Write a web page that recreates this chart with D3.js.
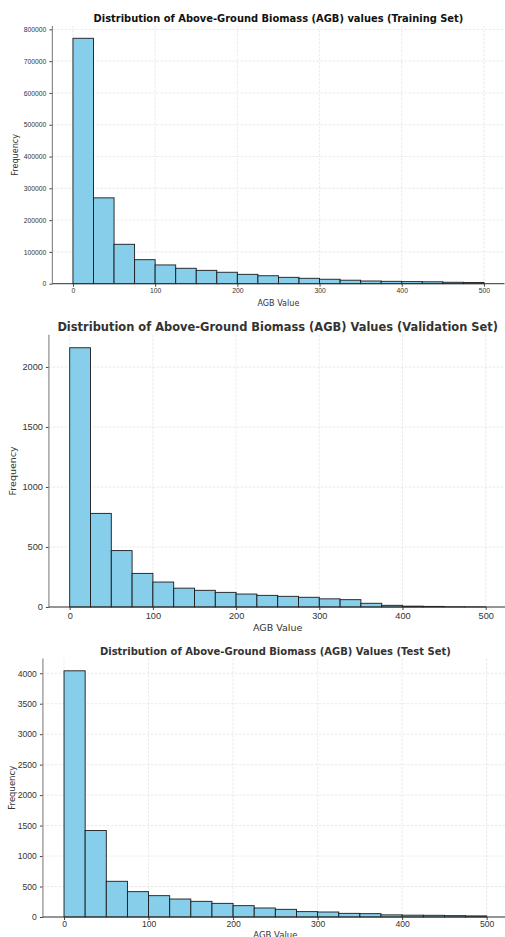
<!DOCTYPE html>
<html lang="en">
<head>
<meta charset="UTF-8">
<title>AGB Distributions</title>
<script src="https://cdnjs.cloudflare.com/ajax/libs/d3/7.8.5/d3.min.js"></script>
<style>
    body { margin: 0; background: #fff; }
    svg { display: block; font-family: 'DejaVu Sans', sans-serif; }
    .grid line { stroke: #dcdcdc; stroke-width: 0.6; stroke-dasharray: 2.5,1.5; }
    .tick text { fill: #333; }
    .tick line { stroke: #444; }
</style>
</head>
<body>
<div id="chart"></div>
<script>
    // histogram bins (AGB value), shared by all three sets
    const binEdges = [0, 25, 50, 75, 100, 125, 150, 175, 200, 225, 250,
                      275, 300, 325, 350, 375, 400, 425, 450, 475, 500];

    const trainCounts = [772000, 270000, 124000, 75500, 59000, 48500, 42000, 36000, 29500, 25000,
                         20000, 17000, 14000, 11000, 8500, 7500, 6500, 6000, 4500, 4000];
    const valCounts = [2160, 780, 470, 280, 208, 157, 139, 122, 108, 97,
                       89, 81, 68, 61, 31, 14, 7, 5, 2, 1];
    const testCounts = [4040, 1420, 586, 416, 350, 295, 257, 224, 186, 148,
                        126, 88, 82, 60, 55, 35, 30, 28, 22, 18];

    const xTicks = [0, 100, 200, 300, 400, 500];
    const trainYTicks = [0, 100000, 200000, 300000, 400000, 500000, 600000, 700000, 800000];
    const valYTicks = [0, 500, 1000, 1500, 2000];
    const testYTicks = [0, 500, 1000, 1500, 2000, 2500, 3000, 3500, 4000];

    const panels = [
        {
            title: "Distribution of Above-Ground Biomass (AGB) values (Training Set)",
            counts: trainCounts, yTicks: trainYTicks,
            left: 52.4, right: 504.5, top: 26, bottom: 283.7,
            titleY: 22, titleWidth: 370, titleColor: "#111",
            tickSize: 6.8, labelSize: 8.1,
            xTickY: 294, xLabelY: 305.5, yLabelX: 15
        },
        {
            title: "Distribution of Above-Ground Biomass (AGB) Values (Validation Set)",
            counts: valCounts, yTicks: valYTicks,
            left: 48.9, right: 506.5, top: 334.8, bottom: 607,
            titleY: 330.5, titleWidth: 441, titleColor: "#333",
            tickSize: 9.2, labelSize: 9.5,
            xTickY: 619, xLabelY: 630.5, yLabelX: 13
        },
        {
            title: "Distribution of Above-Ground Biomass (AGB) Values (Test Set)",
            counts: testCounts, yTicks: testYTicks,
            left: 42.9, right: 507.8, top: 658.5, bottom: 917,
            titleY: 655, titleWidth: 351, titleColor: "#333",
            tickSize: 8.6, labelSize: 8.5,
            xTickY: 927, xLabelY: 938, yLabelX: 12
        }
    ];

    const svg = d3.select("#chart").append("svg")
        .attr("width", 505)
        .attr("height", 937);

    panels.forEach(p => {
        const g = svg.append("g");
        const bins = p.counts.map((c, i) => ({ x0: binEdges[i], x1: binEdges[i + 1], count: c }));

        const x = d3.scaleLinear().domain([-25, 525]).range([p.left, p.right]);
        const y = d3.scaleLinear().domain([0, d3.max(p.counts) * 1.05]).range([p.bottom, p.top]);

        // grid
        g.append("g").attr("class", "grid")
            .selectAll("line").data(p.yTicks).enter().append("line")
            .attr("x1", p.left).attr("x2", p.right)
            .attr("y1", d => y(d)).attr("y2", d => y(d));
        g.append("g").attr("class", "grid")
            .selectAll("line").data(xTicks).enter().append("line")
            .attr("x1", d => x(d)).attr("x2", d => x(d))
            .attr("y1", p.top).attr("y2", p.bottom);

        // bars
        g.append("g").selectAll("rect").data(bins).enter().append("rect")
            .attr("x", d => x(d.x0))
            .attr("width", d => x(d.x1) - x(d.x0))
            .attr("y", d => y(d.count))
            .attr("height", d => p.bottom - y(d.count))
            .attr("fill", "#87ceeb")
            .attr("stroke", "#1a1a1a")
            .attr("stroke-width", 0.9);

        // axes
        const xAxis = g.append("g")
            .attr("transform", `translate(0,${p.bottom})`)
            .call(d3.axisBottom(x).tickValues(xTicks).tickSize(3).tickSizeOuter(0));
        xAxis.select(".domain").remove();
        xAxis.selectAll("text").attr("y", null).attr("dy", "0.35em")
            .attr("transform", `translate(0,${p.xTickY - 3 - p.bottom})`)
            .style("font-size", p.tickSize + "px");

        const yAxis = g.append("g")
            .attr("transform", `translate(${p.left},0)`)
            .call(d3.axisLeft(y).tickValues(p.yTicks).tickFormat(d3.format("d")).tickSize(3).tickSizeOuter(0).tickPadding(3));
        yAxis.select(".domain").remove();
        yAxis.selectAll("text").style("font-size", p.tickSize + "px");

        // spines
        g.append("line")
            .attr("x1", p.left).attr("x2", p.left)
            .attr("y1", p.top).attr("y2", p.bottom)
            .attr("stroke", "#8c8c8c").attr("stroke-width", 1.2);
        g.append("line")
            .attr("x1", p.left).attr("x2", p.right)
            .attr("y1", p.bottom).attr("y2", p.bottom)
            .attr("stroke", "#333").attr("stroke-width", 1);

        // title, sized to the width it takes in the original
        const title = g.append("text")
            .attr("x", (p.left + p.right) / 2).attr("y", p.titleY)
            .attr("text-anchor", "middle")
            .style("font-size", "10px")
            .style("font-weight", "bold")
            .attr("fill", p.titleColor)
            .text(p.title);
        const w = title.node().getComputedTextLength();
        title.style("font-size", (10 * p.titleWidth / w).toFixed(2) + "px");

        g.append("text")
            .attr("x", (p.left + p.right) / 2).attr("y", p.xLabelY)
            .attr("text-anchor", "middle")
            .style("font-size", p.labelSize + "px")
            .attr("fill", "#333")
            .text("AGB Value");

        g.append("text")
            .attr("transform", `translate(${p.yLabelX},${(p.top + p.bottom) / 2}) rotate(-90)`)
            .attr("text-anchor", "middle")
            .attr("dy", "0.35em")
            .style("font-size", p.labelSize + "px")
            .attr("fill", "#333")
            .text("Frequency");
    });
</script>
</body>
</html>
